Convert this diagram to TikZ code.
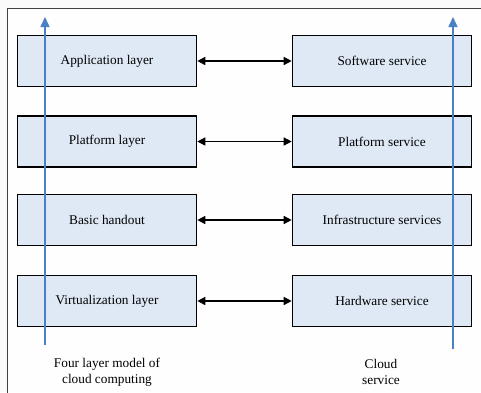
\documentclass[tikz,border=0pt]{standalone}
\usepackage{fontspec}
\setmainfont{Liberation Serif}
\usetikzlibrary{arrows.meta}
\definecolor{boxfill}{HTML}{DEE9F5}
\definecolor{bluearrow}{HTML}{4A80C4}
\definecolor{framecol}{HTML}{404040}
\begin{document}
\begin{tikzpicture}[x=1pt,y=-1pt,
  layerbox/.style={draw=black,line width=1.6pt,fill=boxfill,minimum width=179pt,minimum height=51pt,inner sep=0pt,font=\fontsize{13.3}{15}\selectfont},
  biarrow/.style={line width=1.4pt,{Triangle[length=8pt,width=8pt]}-{Triangle[length=8pt,width=8pt]}},
  uparrow/.style={bluearrow,line width=1.5pt,-{Triangle[length=10pt,width=9pt]}},
  caption/.style={align=center,font=\fontsize{13.3}{16}\selectfont}]
\useasboundingbox (0,0) rectangle (481,392);
\fill[white!98!black] (0,0) rectangle (481,392);
\fill[white!99.5!black] (7,8) rectangle (481,392);
\draw[framecol,line width=1pt] (7,400) -- (7,8) -- (490,8);
\node[layerbox] (a1) at (107,61) {Application layer};
\node[layerbox] (a2) at (107,141.5) {Platform layer};
\node[layerbox] (a3) at (107,220) {Basic handout};
\node[layerbox] (a4) at (107,301) {Virtualization layer};
\node[layerbox] (b1) at (382,61) {Software service};
\node[layerbox] (b2) at (382,141.5) {Platform service};
\node[layerbox] (b3) at (382,220) {Infrastructure services};
\node[layerbox] (b4) at (382,301) {Hardware service};
\draw[biarrow] (a1.east) -- (b1.west);
\draw[biarrow] (a2.east) -- (b2.west);
\draw[biarrow] (a3.east) -- (b3.west);
\draw[biarrow] (a4.east) -- (b4.west);
\coordinate (l0) at (45,345);
\coordinate (l1) at (45,17);
\coordinate (r0) at (453,349);
\coordinate (r1) at (453,17);
\draw[uparrow] (l0) -- (l1);
\draw[uparrow] (r0) -- (r1);
\node[caption] (c1) at (107,372) {Four layer model of\\cloud computing};
\node[caption] (c2) at (381,372) {Cloud\\service};
\end{tikzpicture}
\end{document}
